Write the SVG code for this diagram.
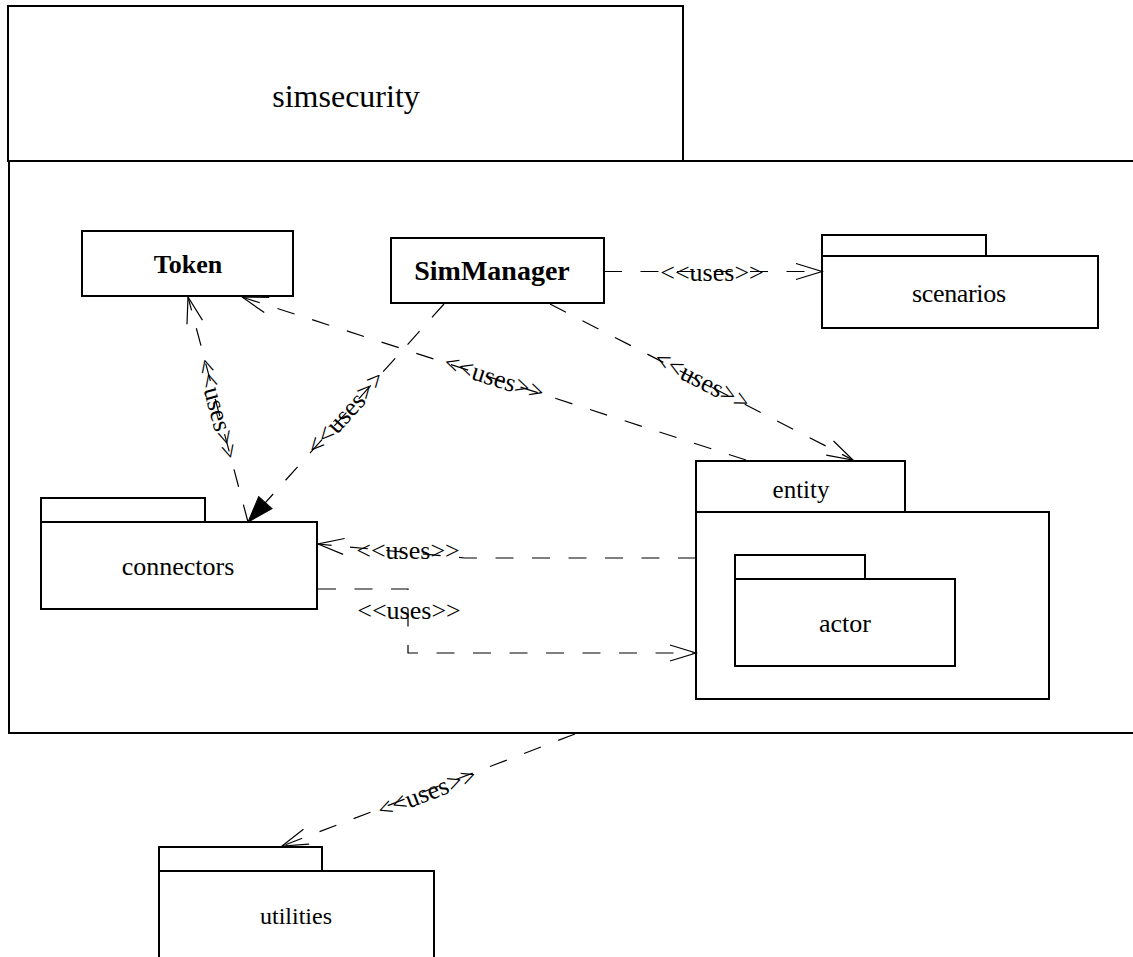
<svg xmlns="http://www.w3.org/2000/svg" width="1133" height="957" viewBox="0 0 1133 957">
<style>
.box{fill:#fff;stroke:#000;stroke-width:2}
.name{font-family:"Liberation Serif","Times New Roman",serif;font-size:26px;fill:#000;text-anchor:middle}
.bold{font-weight:bold}
.title{font-family:"Liberation Serif","Times New Roman",serif;font-size:32px;fill:#000;text-anchor:middle}
.dep{fill:none;stroke:#000;stroke-width:1.2;stroke-dasharray:18 18.5}
.lbl{font-family:"Liberation Serif","Times New Roman",serif;font-size:26px;fill:#000;text-anchor:middle}
</style>
<defs>
<marker id="open" markerUnits="userSpaceOnUse" markerWidth="40" markerHeight="30" viewBox="-30 -15 40 30" refX="0" refY="0" orient="auto" overflow="visible">
<path d="M-26,-8 L0,0 L-26,8" fill="none" stroke="#000" stroke-width="1.2" stroke-dasharray="none"/>
</marker>
<marker id="filled" markerUnits="userSpaceOnUse" markerWidth="40" markerHeight="30" viewBox="-30 -15 40 30" refX="0" refY="0" orient="auto" overflow="visible">
<path d="M-26,-9 L0,0 L-26,9 Z" fill="#000" stroke="#000" stroke-width="1" stroke-dasharray="none"/>
</marker>
</defs>
<rect width="1133" height="957" fill="#fff"/>
<g id="simsecurity">
<rect class="box" x="8" y="6" width="675" height="155"/>
<rect class="box" x="9" y="161" width="1140" height="572"/>
<text class="title" x="346" y="107">simsecurity</text>
</g>
<g id="Token">
<rect class="box" x="82" y="231" width="211" height="65"/>
<text class="name bold" x="188" y="273">Token</text>
</g>
<g id="SimManager">
<rect class="box" x="391" y="238" width="213" height="65"/>
<text class="name bold" x="492" y="280" style="font-size:28px">SimManager</text>
</g>
<g id="scenarios">
<rect class="box" x="822" y="235" width="164" height="21"/>
<rect class="box" x="822" y="256" width="276" height="72"/>
<text class="name" x="959" y="302" textLength="94" lengthAdjust="spacing">scenarios</text>
</g>
<g id="entity">
<rect class="box" x="696" y="461" width="209" height="51"/>
<rect class="box" x="696" y="512" width="353" height="187"/>
<text class="name" x="801" y="498" style="font-size:25px">entity</text>
</g>
<g id="actor">
<rect class="box" x="735" y="555" width="130" height="24"/>
<rect class="box" x="735" y="579" width="220" height="87"/>
<text class="name" x="845" y="632">actor</text>
</g>
<g id="connectors">
<rect class="box" x="41" y="498" width="164" height="24"/>
<rect class="box" x="41" y="522" width="276" height="87"/>
<text class="name" x="178" y="575">connectors</text>
</g>
<g id="utilities">
<rect class="box" x="159" y="847" width="163" height="24"/>
<rect class="box" x="159" y="871" width="275" height="100"/>
<text class="name" x="296" y="924" style="font-size:24px">utilities</text>
</g>
<g id="connectors-group">
<path class="dep" d="M604,271.5 L822,271.5" marker-end="url(#open)"/>
<text class="lbl" x="712" y="281">&lt;&lt;uses&gt;&gt;</text>

<path class="dep" d="M248,522 L188,297" marker-end="url(#open)"/>
<text class="lbl" transform="translate(217,409) rotate(75.1)" x="0" y="8">&lt;&lt;uses&gt;&gt;</text>

<path class="dep" d="M444,304 L248,522" marker-end="url(#filled)"/>
<text class="lbl" transform="translate(346,413) rotate(-48)" x="0" y="8">&lt;&lt;uses&gt;&gt;</text>

<path class="dep" d="M550,304 L853,460" marker-end="url(#open)"/>
<text class="lbl" transform="translate(702,381) rotate(27.1)" x="0" y="8">&lt;&lt;uses&gt;&gt;</text>

<path class="dep" d="M746,460 L242,297" marker-end="url(#open)"/>
<text class="lbl" transform="translate(494,378) rotate(17.8)" x="0" y="8">&lt;&lt;uses&gt;&gt;</text>

<path class="dep" d="M696,558 L465,558 L318,544" marker-end="url(#open)"/>
<text class="lbl" x="408" y="559">&lt;&lt;uses&gt;&gt;</text>

<path class="dep" d="M318,589 L408,589 L408,653 L696,653" marker-end="url(#open)"/>
<text class="lbl" x="409" y="619">&lt;&lt;uses&gt;&gt;</text>

<path class="dep" d="M575,734 L282,846" marker-end="url(#open)"/>
<text class="lbl" transform="translate(427,793) rotate(-20.9)" x="0" y="8">&lt;&lt;uses&gt;&gt;</text>
</g>
</svg>
